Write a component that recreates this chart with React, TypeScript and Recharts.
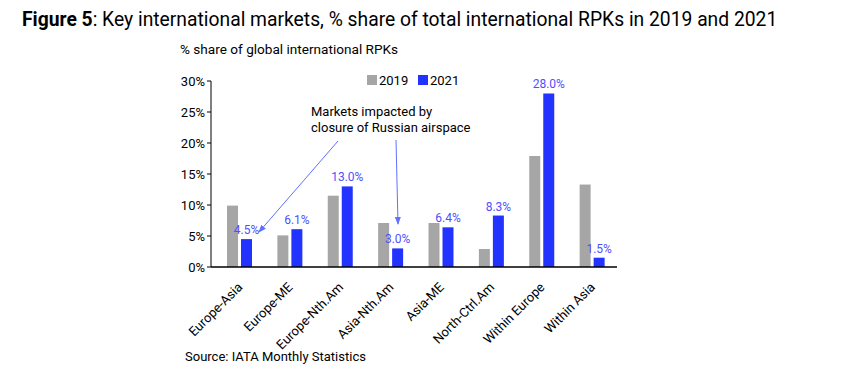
import React from "react";
import { BarChart, Bar, XAxis, YAxis, LabelList, Customized } from "recharts";

const categories = ["Europe-Asia", "Europe-ME", "Europe-Nth.Am", "Asia-Nth.Am", "Asia-ME", "North-Ctrl.Am", "Within Europe", "Within Asia"];
const share2019 = [9.9, 5.1, 11.5, 7.1, 7.1, 2.9, 17.9, 13.3];
const share2021 = [4.5, 6.1, 13.0, 3.0, 6.4, 8.3, 28.0, 1.5];
const yTicks = [0, 5, 10, 15, 20, 25, 30];
const seriesNames = ["2019", "2021"];

const data = categories.map((c, i) => ({ name: c, y2019: share2019[i], y2021: share2021[i] }));

const FONT = "Roboto, 'Noto Sans', sans-serif";
const GRAY = "#a6a6a6";
const BLUE = "#2233ff";
const LABEL = "#4f4fff";
const ARROW = "#6070ff";

const XTick = (props: any) => {
  const { x, y, payload } = props;
  return (
    <g transform={`translate(${x + 4},${y + 13})`}>
      <text x={0} y={0} textAnchor="end" transform="rotate(-45)" fontSize={13} fill="#000" fontFamily={FONT}>
        {payload.value}
      </text>
    </g>
  );
};

const Annotation = () => (
  <g>
    <defs>
      <marker id="ah" markerWidth="8" markerHeight="8" refX="7" refY="4" orient="auto" markerUnits="userSpaceOnUse">
        <path d="M0,1 L8,4 L0,7 Z" fill={ARROW} />
      </marker>
    </defs>
    <text x={311} y={116} fontSize={13} fill="#000" fontFamily={FONT}>Markets impacted by</text>
    <text x={311} y={132} fontSize={13} fill="#000" fontFamily={FONT}>closure of Russian airspace</text>
    <line x1={338} y1={141} x2={259} y2={232} stroke={ARROW} strokeWidth={1} markerEnd="url(#ah)" />
    <line x1={396} y1={140} x2={398} y2={224} stroke={ARROW} strokeWidth={1} markerEnd="url(#ah)" />
    <rect x={367} y={75} width={10} height={10} fill={GRAY} />
    <text x={379} y={85} fontSize={13} fill="#000" fontFamily={FONT}>{seriesNames[0]}</text>
    <rect x={418} y={75} width={10} height={10} fill={BLUE} />
    <text x={430} y={85} fontSize={13} fill="#000" fontFamily={FONT}>{seriesNames[1]}</text>
  </g>
);

export default function App() {
  return (
    <div style={{ position: "absolute", left: 0, top: 0, width: 857, height: 371, background: "#fff", fontFamily: FONT }}>
      <div style={{ position: "absolute", left: 22, top: 8, fontSize: 19.3, color: "#000", whiteSpace: "nowrap" }}>
        <b>Figure 5</b>: Key international markets, % share of total international RPKs in 2019 and 2021
      </div>
      <div style={{ position: "absolute", left: 180, top: 41, fontSize: 13.6, color: "#000", whiteSpace: "nowrap" }}>
        % share of global international RPKs
      </div>
      <div style={{ position: "absolute", left: 185, top: 349, fontSize: 13, color: "#000", whiteSpace: "nowrap" }}>
        Source: IATA Monthly Statistics
      </div>
      <BarChart
        width={857}
        height={371}
        data={data}
        margin={{ top: 81, right: 240, bottom: 44, left: 161 }}
        barSize={11}
        barGap={3}
      >
        <XAxis
          dataKey="name"
          axisLine={{ stroke: "#000", strokeWidth: 1.5 }}
          tickLine={false}
          tick={<XTick />}
          interval={0}
          height={60}
          padding={{ left: 3, right: 0 }}
        />
        <YAxis
          width={50}
          domain={[0, 30]}
          ticks={yTicks}
          tickFormatter={(v: number) => `${v}%`}
          axisLine={{ stroke: "#000" }}
          tickLine={{ stroke: "#000" }}
          tickSize={4}
          tick={{ fontSize: 13, fill: "#000", fontFamily: FONT }}
          allowDataOverflow
        />
        <Bar dataKey="y2019" name={seriesNames[0]} fill={GRAY} isAnimationActive={false} />
        <Bar dataKey="y2021" name={seriesNames[1]} fill={BLUE} isAnimationActive={false}>
          <LabelList
            dataKey="y2021"
            position="top"
            offset={5}
            formatter={(v: number) => `${v.toFixed(1)}%`}
            fill={LABEL}
            fontSize={12}
            fontFamily={FONT}
          />
        </Bar>
        <Customized component={Annotation} />
      </BarChart>
    </div>
  );
}
